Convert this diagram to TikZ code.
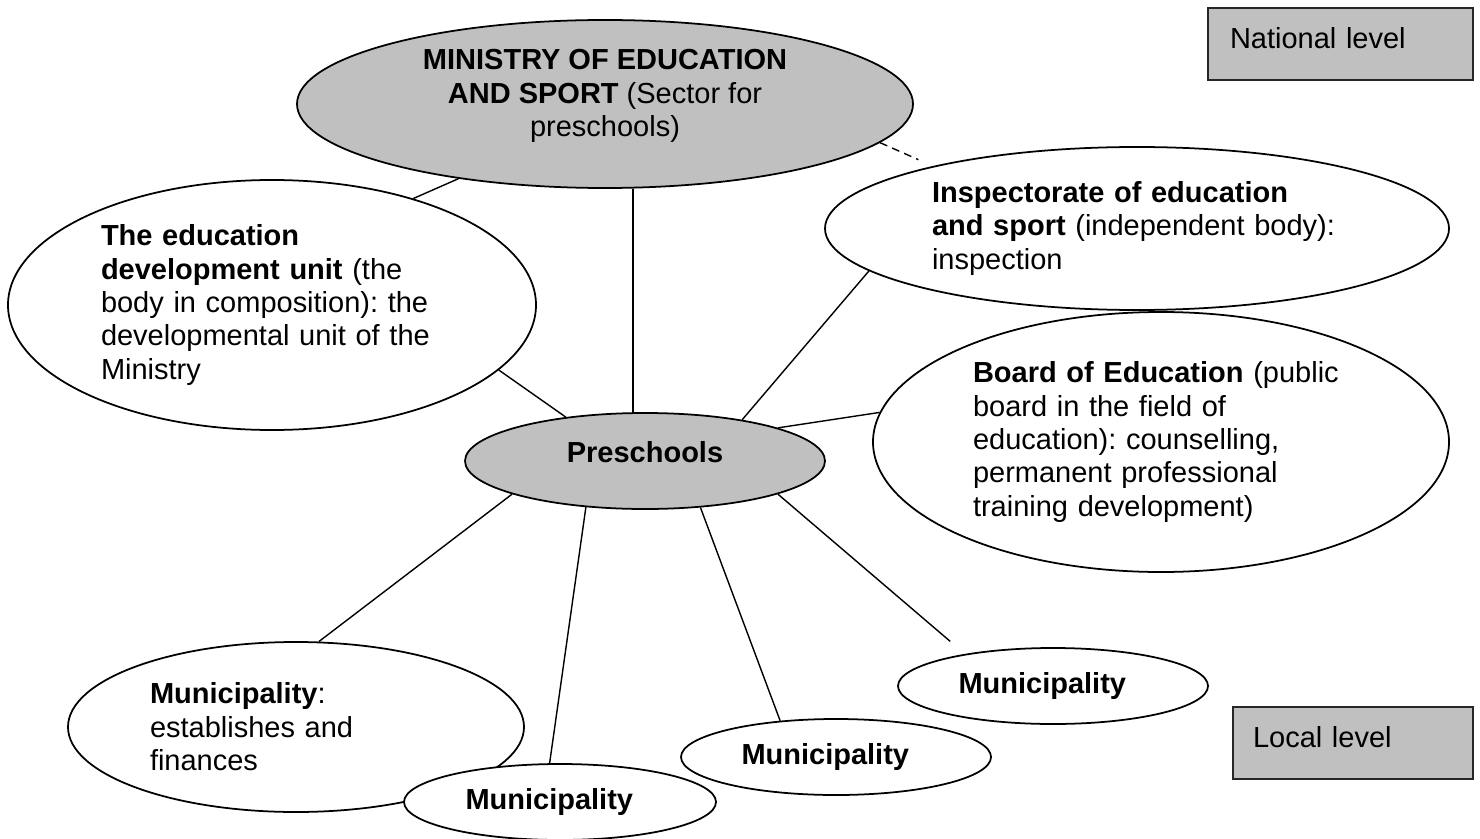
\documentclass[tikz,border=0pt]{standalone}
\usepackage{fontspec}
\setmainfont{Liberation Sans}
\usetikzlibrary{shapes.geometric}

\definecolor{orgGray}{HTML}{C0C0C0}

\tikzset{
  body/.style={ellipse,draw,line width=1pt,fill=white,inner sep=0pt,
    font=\fontsize{16.5}{19}\selectfont\frenchspacing},
  town/.style={body,minimum width=6.2cm,minimum height=1.52cm,text width=3.78cm,align=left},
  level/.style={rectangle,draw=black!85,line width=1.2pt,fill=orgGray,
    inner sep=0pt,align=left,text depth=0.24cm,font=\fontsize{16.5}{19}\selectfont},
  link/.style={line width=0.8pt}
}

\begin{document}
\begin{tikzpicture}
\useasboundingbox (0,0) rectangle (29.6,16.76);

\node[body,fill=orgGray,minimum width=12.32cm,minimum height=3.36cm,align=center,text depth=0.44cm] (min) at (12.1,14.68)
  {\textbf{MINISTRY OF EDUCATION}\\ \textbf{AND SPORT} (Sector for\\ preschools)};
\node[body,minimum width=10.56cm,minimum height=5cm,text width=6.84cm,align=left] (edu) at (5.44,10.66)
  {\textbf{The education}\\ \textbf{development unit} (the\\ body in composition): the\\ developmental unit of the\\ Ministry};
\node[body,minimum width=12.48cm,minimum height=3.26cm,text width=8.2cm,align=left] (insp) at (22.74,12.19)
  {\textbf{Inspectorate of education}\\ \textbf{and sport} (independent body):\\ inspection};
\node[body,minimum width=11.52cm,minimum height=5.2cm,text width=7.52cm,align=left] (board) at (23.22,7.92)
  {\textbf{Board of Education} (public\\ board in the field of\\ education): counselling,\\ permanent professional\\ training development)};
\node[body,fill=orgGray,minimum width=7.2cm,minimum height=1.92cm,text depth=0.38cm] (pre) at (12.9,7.54) {\textbf{Preschools}};

\node[body,minimum width=9.12cm,minimum height=3.4cm,text width=5.84cm,align=left] (munA) at (5.92,2.22)
  {\textbf{Municipality}:\\ establishes and\\ finances};
\node[town,minimum width=6.24cm] (munB) at (11.2,0.72) {\textbf{Municipality}};
\node[town] (munC) at (16.72,1.62) {\textbf{Municipality}};
\node[town] (munD) at (21.06,3.04) {\textbf{Municipality}};

\node[level,minimum width=5.3cm,minimum height=1.44cm,text width=4.42cm] (national) at (26.81,15.88) {National level};
\node[level,minimum width=4.8cm,minimum height=1.44cm,text width=4cm] (local) at (27.06,1.9) {Local level};

\draw[link] (min.207) -- (edu.37);
\draw[link] (pre.104) -- (pre.104 |- min.south);
\draw[link,dash pattern=on 4.5pt off 3pt,shorten >=9pt] (min.352) -- (insp.163);
\draw[link] (edu.344) -- (pre.151);
\draw[link] (insp.189) -- (pre.23);
\draw[link] (board.174) -- (pre.14);
\draw[link] (pre.194) -- (munA.75);
\draw[link] (pre.218) -- (munB.105);
\draw[link] (pre.320) -- (munC.147);
\draw[link,shorten >=11pt] (pre.346) -- (munD.160);
\end{tikzpicture}
\end{document}
